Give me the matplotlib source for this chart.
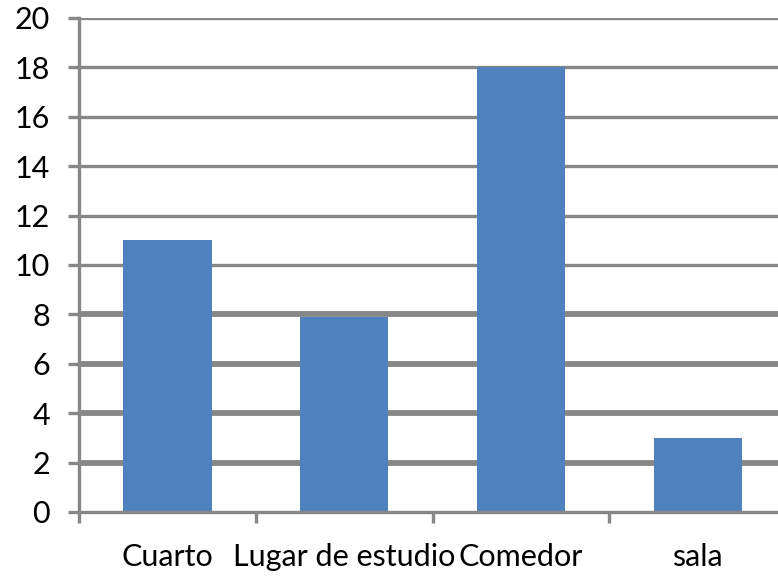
import matplotlib.pyplot as plt
import numpy as np

categories = ['Cuarto', 'Lugar de estudio', 'Comedor', 'sala']
values = [11, 7.9, 18, 3]
y_ticks = [0, 2, 4, 6, 8, 10, 12, 14, 16, 18, 20]

grid_color = '#878787'
bar_color = '#4F81BD'

plt.rcParams['font.family'] = ['Lato', 'DejaVu Sans']

fig = plt.figure(figsize=(7.78, 5.77), dpi=100)
ax = fig.add_axes([0.1015, 0.1127, 0.909, 0.8563])

x = np.arange(len(categories))

# gridlines (lower ones come out heavier in the original)
for t in y_ticks[1:]:
    lw = 4.2 if t <= 8 else 2.4
    ax.axhline(t, color=grid_color, linewidth=lw, zorder=1)

ax.bar(x, values, width=0.5, color=bar_color, zorder=2)

ax.set_xlim(-0.5, len(categories) - 0.5)
ax.set_ylim(0, 20)
ax.set_yticks(y_ticks)
ax.set_xticks(x)
ax.set_xticklabels(categories)
ax.set_xticks(np.arange(len(categories) + 1) - 0.5, minor=True)

for s in ['top', 'right']:
    ax.spines[s].set_visible(False)
for s in ['left', 'bottom']:
    ax.spines[s].set_color(grid_color)
    ax.spines[s].set_linewidth(2.4)

ax.tick_params(axis='y', length=8, width=2.4, color=grid_color,
               labelsize=22, pad=13)
ax.tick_params(axis='x', which='major', length=0, labelsize=22, pad=22)
ax.tick_params(axis='x', which='minor', length=8, width=2.4,
               color=grid_color)

plt.savefig('out.png', dpi=100)
